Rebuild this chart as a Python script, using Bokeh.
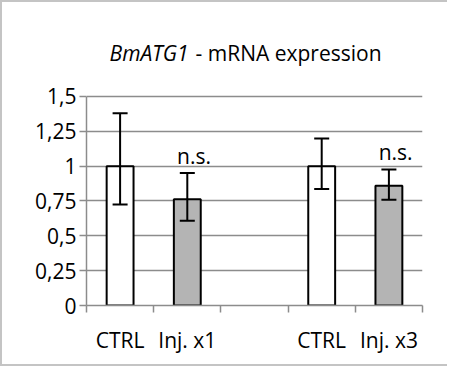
from bokeh.plotting import figure
from bokeh.models import FixedTicker, Label, Whisker, TeeHead, ColumnDataSource, Range1d
from bokeh.embed import file_html
from bokeh.resources import INLINE
from bokeh.core.properties import value

# ---- data ----
categories = ["CTRL", "Inj. x1", "", "CTRL", "Inj. x3"]
means = [1.0, 0.763, None, 1.0, 0.86]
err_upper = [1.379, 0.951, None, 1.198, 0.976]
err_lower = [0.725, 0.609, None, 0.836, 0.759]
bar_colors = ["#ffffff", "#b4b4b4", None, "#ffffff", "#b4b4b4"]
annotations = ["", "n.s.", "", "", "n.s."]
y_ticks = [0, 0.25, 0.5, 0.75, 1.0, 1.25, 1.5]
y_tick_labels = ["0", "0,25", "0,5", "0,75", "1", "1,25", "1,5"]
title_italic = "BmATG1"
title_rest = " - mRNA expression"

FONT = "Open Sans"
GRAY = "#8c8c8c"
FS = "21px"

idx = [i for i, m in enumerate(means) if m is not None]
src = ColumnDataSource(dict(
    x=[i + 0.5 for i in idx],
    top=[means[i] for i in idx],
    upper=[err_upper[i] for i in idx],
    lower=[err_lower[i] for i in idx],
    fill=[bar_colors[i] for i in idx],
))
ann_idx = [i for i, a in enumerate(annotations) if a]
ann_src = ColumnDataSource(dict(
    x=[i + 0.6 for i in ann_idx],
    y=[err_upper[i] for i in ann_idx],
    text=[annotations[i] for i in ann_idx],
))

y_top = 2.16  # extra room above the axis for the title (layout only)
p = figure(width=447, height=366, x_range=Range1d(0, len(categories)), y_range=Range1d(0, y_top),
           output_backend="svg", toolbar_location=None,
           min_border_left=84, min_border_right=27, min_border_top=2, min_border_bottom=63)
p.outline_line_color = None
p.background_fill_color = "white"
p.border_fill_color = "white"
p.styles = {"border-left": "2px solid #c4c4c4", "border-top": "2px solid #c4c4c4",
            "border-bottom": "2px solid #c4c4c4"}

p.vbar(x="x", top="top", width=0.4, fill_color="fill", line_color="black", line_width=2, source=src)

wh = Whisker(base="x", upper="upper", lower="lower", source=src, line_color="black", line_width=2,
             level="overlay",
             upper_head=TeeHead(size=15, line_color="black", line_width=2),
             lower_head=TeeHead(size=15, line_color="black", line_width=2))
p.add_layout(wh)

p.text(x="x", y="y", text="text", source=ann_src, text_font=value(FONT), text_font_size=value(FS),
       text_align="center", text_baseline="bottom", y_offset=-3, text_color="black")

# grid
p.xgrid.visible = False
p.ygrid.grid_line_color = GRAY
p.ygrid.grid_line_width = 1.5
p.ygrid.ticker = FixedTicker(ticks=y_ticks)

# y axis
p.yaxis.ticker = FixedTicker(ticks=y_ticks)
p.yaxis.bounds = (y_ticks[0], y_ticks[-1])
p.yaxis.major_label_overrides = {t: l for t, l in zip(y_ticks, y_tick_labels)}
p.yaxis.major_tick_out = 7
p.yaxis.major_tick_in = 0
p.yaxis.minor_tick_out = 0
p.yaxis.major_label_standoff = 3

# x axis
p.xaxis.ticker = FixedTicker(ticks=[i + 0.5 for i in range(len(categories)) if categories[i]],
                             minor_ticks=list(range(len(categories) + 1)))
p.xaxis.major_label_overrides = {i + 0.5: c for i, c in enumerate(categories) if c}
p.xaxis.major_tick_out = 0
p.xaxis.major_tick_in = 0
p.xaxis.minor_tick_out = 7
p.xaxis.minor_tick_in = 0
p.xaxis.major_label_standoff = 13

for ax in (p.xaxis[0], p.yaxis[0]):
    ax.axis_line_color = GRAY
    ax.axis_line_width = 1.5
    ax.major_tick_line_color = GRAY
    ax.major_tick_line_width = 1.5
    ax.minor_tick_line_color = GRAY
    ax.minor_tick_line_width = 1.5
    ax.major_label_text_font = FONT
    ax.major_label_text_font_size = FS
    ax.major_label_text_color = "black"

# title (mixed italic / normal)
p.add_layout(Label(x=1.548, y=1.81, x_offset=-2, text=title_italic, text_font=FONT, text_font_size=FS,
                   text_font_style="italic", text_align="right", text_baseline="middle", text_color="black"))
p.add_layout(Label(x=1.548, y=1.81, x_offset=5, text=title_rest, text_font=FONT, text_font_size=FS,
                   text_align="left", text_baseline="middle", text_color="black"))

open("out.html", "w").write(file_html(p, INLINE))
